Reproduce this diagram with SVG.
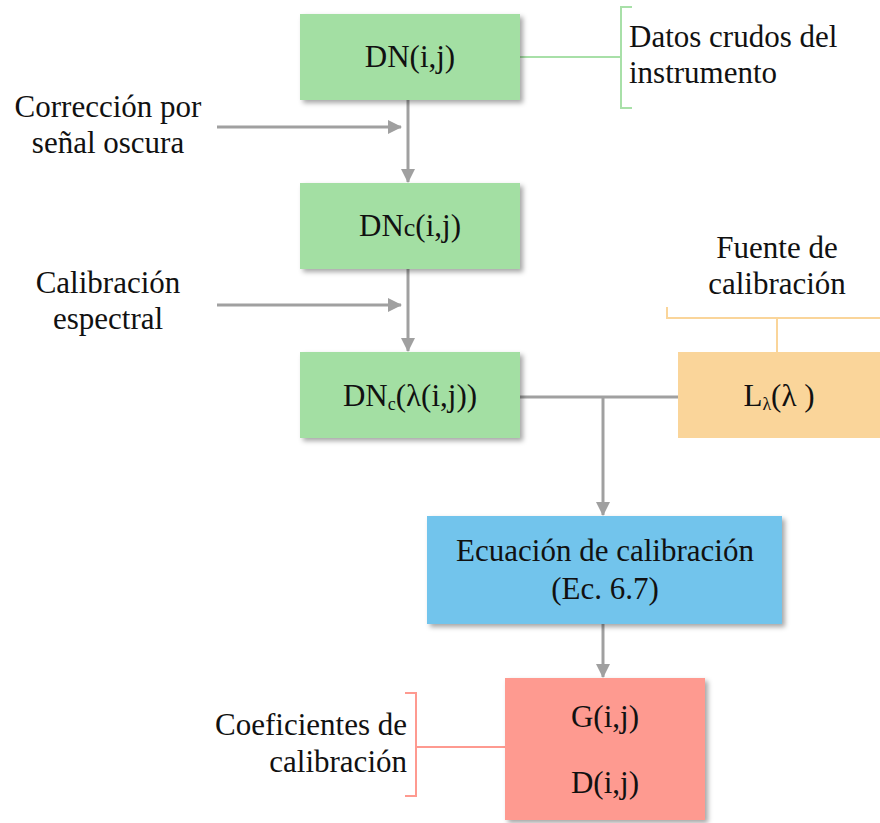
<svg xmlns="http://www.w3.org/2000/svg" width="880" height="823" viewBox="0 0 880 823">
<defs>
<style>
text{font-family:"Liberation Serif","Times New Roman",serif;font-size:31px;fill:#111}
.c{text-anchor:middle}
.r{text-anchor:end}
.conn{stroke:#A0A0A0;stroke-width:3;fill:none}
.g{fill:#A3DFA3}
.o{fill:#FAD59A}
.b{fill:#72C4EC}
.red{fill:#FE9A90}
</style>
<filter id="sh" x="-10%" y="-10%" width="130%" height="130%">
<feDropShadow dx="3" dy="3" stdDeviation="2.5" flood-color="#000" flood-opacity="0.35"/>
</filter>
<marker id="ah" markerWidth="14" markerHeight="14" refX="13" refY="7" orient="auto" markerUnits="userSpaceOnUse">
<path d="M0,0 L14,7 L0,14 z" fill="#A0A0A0"/>
</marker>
</defs>
<rect width="880" height="823" fill="#fff"/>
<g id="connectors">
<line class="conn" x1="408" y1="100" x2="408" y2="182" marker-end="url(#ah)"/>
<line class="conn" x1="217" y1="127" x2="401" y2="127" marker-end="url(#ah)"/>
<line class="conn" x1="408" y1="269" x2="408" y2="351" marker-end="url(#ah)"/>
<line class="conn" x1="217" y1="305" x2="401" y2="305" marker-end="url(#ah)"/>
<line class="conn" x1="520" y1="397" x2="678" y2="397"/>
<line class="conn" x1="603" y1="397" x2="603" y2="515" marker-end="url(#ah)"/>
<line class="conn" x1="603" y1="624" x2="603" y2="677" marker-end="url(#ah)"/>
<line x1="520" y1="57" x2="621" y2="57" stroke="#A8E0A8" stroke-width="2"/>
<polyline points="632,7 621,7 621,108 632,108" fill="none" stroke="#A8E0A8" stroke-width="2"/>
<polyline points="667,307 667,318 880,318" fill="none" stroke="#FAD59A" stroke-width="2"/>
<line x1="777" y1="318" x2="777" y2="352" stroke="#FAD59A" stroke-width="2"/>
<polyline points="405,693 416,693 416,796 405,796" fill="none" stroke="#FE9A90" stroke-width="2"/>
<line x1="416" y1="747" x2="505" y2="747" stroke="#FE9A90" stroke-width="2"/>
</g>
<g id="dn">
<rect class="g" x="300" y="14" width="220" height="86" filter="url(#sh)"/>
<text class="c" x="410" y="67">DN(i,j)</text>
</g>
<g id="datos">
<text x="629" y="47">Datos crudos del</text>
<text x="629" y="83">instrumento</text>
</g>
<g id="correccion">
<text class="c" x="108" y="117">Corrección por</text>
<text class="c" x="108" y="153">señal oscura</text>
</g>
<g id="dnc">
<rect class="g" x="300" y="183" width="220" height="86" filter="url(#sh)"/>
<text class="c" x="410" y="236">DN<tspan font-size="26">c</tspan>(i,j)</text>
</g>
<g id="calesp">
<text class="c" x="108" y="293">Calibración</text>
<text class="c" x="108" y="329">espectral</text>
</g>
<g id="dnclambda">
<rect class="g" x="300" y="352" width="220" height="86" filter="url(#sh)"/>
<text class="c" x="410" y="406">DN<tspan font-size="18" dy="4">c</tspan><tspan dy="-4">(λ(i,j))</tspan></text>
</g>
<g id="fuente">
<text class="c" x="777" y="258">Fuente de</text>
<text class="c" x="777" y="294">calibración</text>
</g>
<g id="llambda">
<rect class="o" x="678" y="352" width="202" height="86"/>
<text class="c" x="779" y="406">L<tspan font-size="18" dy="4">λ</tspan><tspan dy="-4">(λ )</tspan></text>
</g>
<g id="ecuacion">
<rect class="b" x="427" y="516" width="355" height="108" filter="url(#sh)"/>
<text class="c" x="605" y="561">Ecuación de calibración</text>
<text class="c" x="605" y="599">(Ec. 6.7)</text>
</g>
<g id="coef">
<rect class="red" x="505" y="678" width="200" height="142" filter="url(#sh)"/>
<text class="c" x="605" y="727">G(i,j)</text>
<text class="c" x="605" y="793">D(i,j)</text>
</g>
<g id="coeflabel">
<text class="r" x="407" y="735">Coeficientes de</text>
<text class="r" x="407" y="772">calibración</text>
</g>
</svg>
